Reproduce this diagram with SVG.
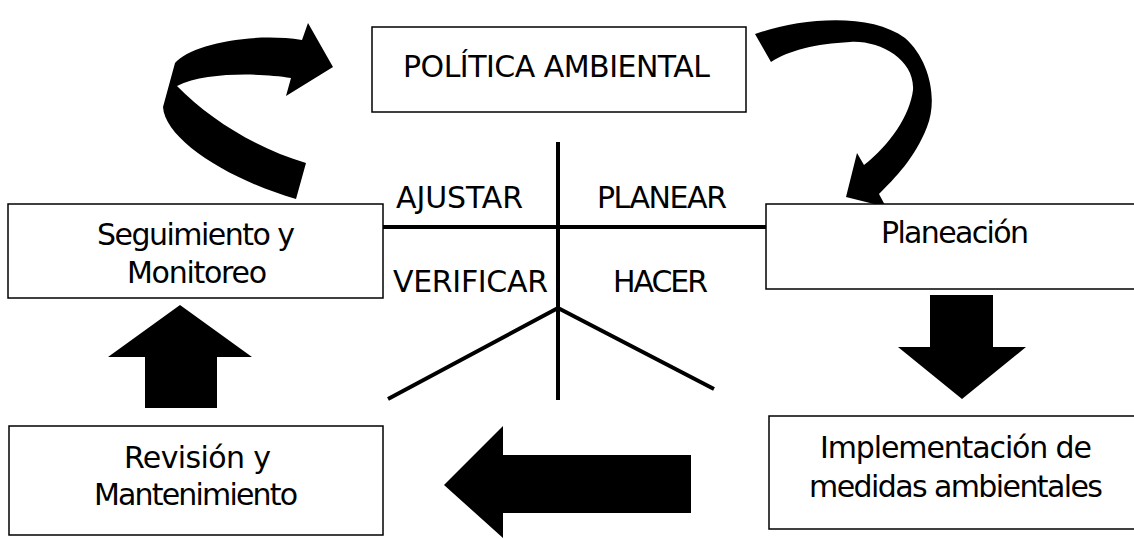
<svg xmlns="http://www.w3.org/2000/svg" width="1134" height="539" viewBox="0 0 1134 539">
<style>
.box{fill:#fff;stroke:#000;stroke-width:1.5}
.t{font-family:"DejaVu Sans","Verdana",sans-serif;font-size:30px;fill:#000;text-anchor:middle}
.ln{stroke:#000;stroke-width:4;fill:none}
.ar{fill:#000;stroke:none}
</style>
<rect width="1134" height="539" fill="#fff"/>
<g id="connectors">
<path class="ar" d="M333,67 L286,96 L291,78 C260,73 205,72 177,86 C210,120 260,150 306,163 L296,199 C230,180 165,140 163,107 L175,63 C190,45 250,32 302,40 L308,23 Z"/>
<path class="ar" d="M755,34 C800,18 870,12 905,38 C930,60 938,100 927,127 C915,158 895,178 879,194 L886,207 L846,197 L857,153 L864,165 C890,145 910,115 913,90 C915,60 880,40 850,42 C815,44 790,50 771,62 Z"/>
<polygon class="ar" points="930,295 993,295 993,347 1026,347 962,399 898,347 930,347"/>
<polygon class="ar" points="444,485 503,426 503,455 691,455 691,513 503,513 503,538"/>
<polygon class="ar" points="180,305 252,357 217,357 217,408 145,408 145,357 108,357"/>
</g>
<g id="cross">
<line class="ln" x1="558" y1="142" x2="558" y2="400"/>
<line class="ln" x1="383" y1="227" x2="767" y2="227"/>
<polyline class="ln" points="388,399 558,308 714,389"/>
<text class="t" x="459.5" y="208" textLength="127">AJUSTAR</text>
<text class="t" x="662" y="208" textLength="130">PLANEAR</text>
<text class="t" x="470.5" y="292" textLength="155">VERIFICAR</text>
<text class="t" x="660.5" y="292" textLength="95">HACER</text>
</g>
<g id="politica">
<rect class="box" x="372" y="27" width="374" height="85"/>
<text class="t" x="556.5" y="77" textLength="307">POLÍTICA AMBIENTAL</text>
</g>
<g id="seguimiento">
<rect class="box" x="8" y="204" width="375" height="94"/>
<text class="t" x="196" y="245" textLength="198">Seguimiento y</text>
<text class="t" x="197" y="283" textLength="140">Monitoreo</text>
</g>
<g id="planeacion">
<rect class="box" x="766" y="204" width="380" height="85"/>
<text class="t" x="955" y="243" textLength="148">Planeación</text>
</g>
<g id="implementacion">
<rect class="box" x="769" y="416" width="380" height="113"/>
<text class="t" x="956" y="458" textLength="272">Implementación de</text>
<text class="t" x="956" y="497" textLength="294">medidas ambientales</text>
</g>
<g id="revision">
<rect class="box" x="9" y="426" width="374" height="109"/>
<text class="t" x="197.5" y="468" textLength="147">Revisión y</text>
<text class="t" x="196" y="505" textLength="204">Mantenimiento</text>
</g>
</svg>
